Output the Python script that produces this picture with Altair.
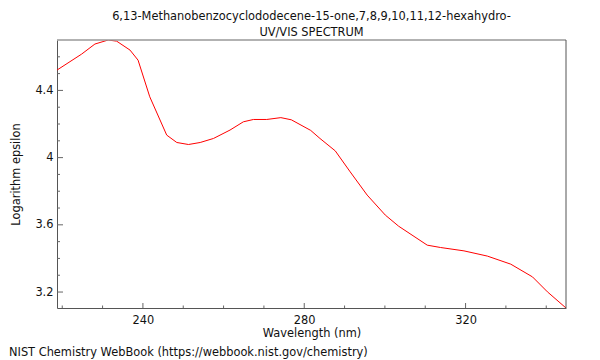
import altair as alt
import pandas as pd

# ---- data ----
wavelength = [218.7, 224.8, 228.1, 231.4, 233.5, 236.8, 238.8, 241.7, 245.9, 248.4,
              251.3, 254.2, 257.5, 261.6, 264.9, 267.4, 270.7, 274.2, 276.8, 281.6,
              283.9, 287.7, 291.4, 295.6, 300.1, 303.4, 310.5, 313.8, 319.6, 325.4,
              331.2, 336.6, 340.3, 344.9]
log_eps = [4.521, 4.616, 4.676, 4.700, 4.693, 4.640, 4.580, 4.362, 4.134, 4.090,
           4.078, 4.090, 4.114, 4.164, 4.213, 4.227, 4.227, 4.238, 4.225, 4.162,
           4.114, 4.040, 3.915, 3.777, 3.658, 3.592, 3.479, 3.465, 3.445, 3.414,
           3.366, 3.290, 3.201, 3.105]

x_major = [240, 280, 320]
x_minor = [220, 230, 250, 260, 270, 290, 300, 310, 330, 340]
y_major = [3.2, 3.6, 4.0, 4.4]
y_minor = [3.3, 3.4, 3.5, 3.7, 3.8, 3.9, 4.1, 4.2, 4.3, 4.5, 4.6]

title_lines = ["6,13-Methanobenzocyclododecene-15-one,7,8,9,10,11,12-hexahydro-",
               "UV/VIS SPECTRUM"]
x_title = "Wavelength (nm)"
y_title = "Logarithm epsilon"
footer = "NIST Chemistry WebBook (https://webbook.nist.gov/chemistry)"

W, H = 509, 268
FONT = "DejaVu Sans"
FS = 11.4
AXC = "#555555"
TICKC = "#666666"

xs = alt.Scale(domain=[218.7, 344.9], nice=False, zero=False)
ys = alt.Scale(domain=[3.105, 4.70], nice=False, zero=False)

x_axis = alt.Axis(title=x_title, values=x_major, ticks=False, grid=False,
                  labelPadding=6, titleY=25, titleBaseline="middle",
                  domainColor=AXC)
y_axis = alt.Axis(title=y_title, values=y_major, ticks=False, grid=False,
                  labelPadding=4, labelExpr="format(datum.value, '~g')",
                  titleX=-41, titleY=H / 2, titleBaseline="middle",
                  titleAngle=-90, titleAlign="center", domainColor=AXC)

df = pd.DataFrame({"wavelength": wavelength, "logeps": log_eps})

line = alt.Chart(df).mark_line(color="#ff0000", strokeWidth=1, clip=True).encode(
    x=alt.X("wavelength:Q", scale=xs, axis=x_axis),
    y=alt.Y("logeps:Q", scale=ys, axis=y_axis),
)

def xticks(vals, length):
    d = pd.DataFrame({"wavelength": vals})
    return alt.Chart(d).mark_rule(color=TICKC, strokeWidth=1).encode(
        x=alt.X("wavelength:Q", scale=xs, axis=x_axis),
        y=alt.value(H), y2=alt.value(H - length))

def yticks(vals, length):
    d = pd.DataFrame({"logeps": vals})
    return alt.Chart(d).mark_rule(color=TICKC, strokeWidth=1).encode(
        y=alt.Y("logeps:Q", scale=ys, axis=y_axis),
        x=alt.value(0), x2=alt.value(length))

top_border = alt.Chart(pd.DataFrame({"a": [0]})).mark_rule(color="#999999", strokeWidth=1.5).encode(
    x=alt.value(0), x2=alt.value(W), y=alt.value(0))
right_border = alt.Chart(pd.DataFrame({"a": [0]})).mark_rule(color=AXC, strokeWidth=1).encode(
    x=alt.value(W), y=alt.value(0), y2=alt.value(H))

foot = alt.Chart(pd.DataFrame({"t": [footer]})).mark_text(
    align="left", baseline="alphabetic", fontSize=FS, font=FONT, color="#111111"
).encode(text="t:N", x=alt.value(-48), y=alt.value(316))

chart = alt.layer(
    line,
    xticks(x_major, 5), xticks(x_minor, 2.5),
    yticks(y_major, 6), yticks(y_minor, 3),
    top_border, right_border, foot
).properties(
    width=W, height=H,
    title=alt.TitleParams(text=title_lines, fontSize=FS, fontWeight="normal",
                          font=FONT, anchor="middle", offset=1, color="#111111",
                          lineHeight=16),
    autosize=alt.AutoSizeParams(type="none"),
    padding={"left": 49, "top": 32, "right": 26, "bottom": 52},
).configure_view(stroke=None).configure_axis(
    labelFont=FONT, titleFont=FONT, labelFontSize=FS, titleFontSize=FS,
    titleFontWeight="normal", labelColor="#111111", titleColor="#111111",
)

chart.save("out.html", embed_options={"renderer": "svg", "actions": False})
